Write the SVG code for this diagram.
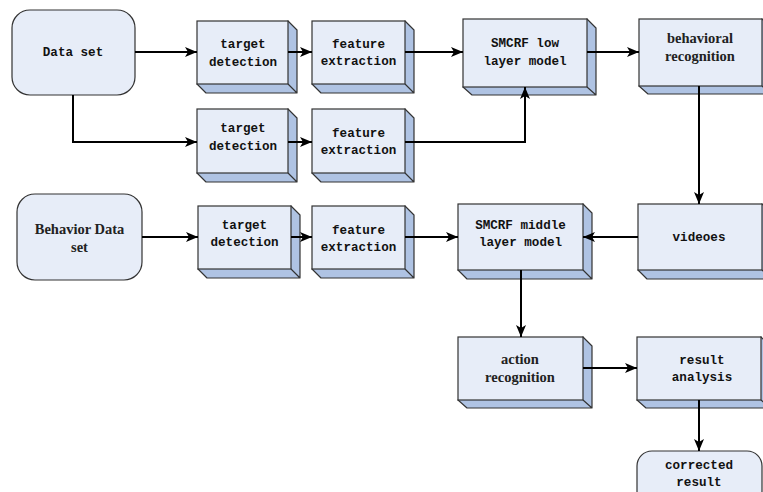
<svg xmlns="http://www.w3.org/2000/svg" width="763" height="492" viewBox="0 0 763 492">
<style>
.face{fill:#e7edf8;stroke:#333;stroke-width:1.2}
.side{fill:#afc3e3;stroke:#333;stroke-width:1.2;stroke-linejoin:round}
.round{fill:#e7edf8;stroke:#333;stroke-width:1.2}
.mono{font-family:"Liberation Mono","DejaVu Sans Mono",monospace;font-weight:bold;font-size:12.6px;fill:#111;text-anchor:middle}
.serif{font-family:"Liberation Serif","Times New Roman",serif;font-weight:bold;font-size:14.5px;fill:#222;text-anchor:middle}
.conn{fill:none;stroke:#000;stroke-width:2;marker-end:url(#ah)}
</style>
<defs>
<marker id="ah" markerUnits="userSpaceOnUse" markerWidth="12" markerHeight="10" viewBox="0 0 12 10" refX="12" refY="5" orient="auto">
<path d="M0,0 L12,5 L0,10 L3,5 Z" fill="#000"/>
</marker>
</defs>

<g id="data-set">
<rect class="round" x="12" y="10" width="123" height="85" rx="18"/>
<text class="mono" x="73" y="56">Data set</text>
</g>

<g id="target-detection-1">
<path class="side" d="M288,21 L297,30 L297,93 L206,93 L197,84 Z M288,84 L297,93"/>
<rect class="face" x="197" y="21" width="91" height="63"/>
<text class="mono" x="243" y="48">target</text>
<text class="mono" x="243" y="66">detection</text>
</g>

<g id="feature-extraction-1">
<path class="side" d="M405,21 L414,30 L414,93 L321,93 L312,84 Z M405,84 L414,93"/>
<rect class="face" x="312" y="21" width="93" height="63"/>
<text class="mono" x="358.5" y="48">feature</text>
<text class="mono" x="358.5" y="65">extraction</text>
</g>

<g id="smcrf-low">
<path class="side" d="M587,19 L596,28 L596,95 L472,95 L463,87 Z M587,87 L596,95"/>
<rect class="face" x="463" y="19" width="124" height="68"/>
<text class="mono" x="525" y="47">SMCRF low</text>
<text class="mono" x="525" y="65">layer model</text>
</g>

<g id="behavioral-recognition">
<path class="side" d="M762,19 L771,28 L771,94 L648,94 L639,86 Z M762,86 L771,94"/>
<rect class="face" x="639" y="19" width="123" height="67"/>
<text class="serif" x="700" y="43">behavioral</text>
<text class="serif" x="700" y="61">recognition</text>
</g>

<g id="target-detection-2">
<path class="side" d="M288,109 L297,118 L297,182 L206,182 L197,173 Z M288,173 L297,182"/>
<rect class="face" x="197" y="109" width="91" height="64"/>
<text class="mono" x="243" y="132">target</text>
<text class="mono" x="243" y="150">detection</text>
</g>

<g id="feature-extraction-2">
<path class="side" d="M405,109 L414,118 L414,182 L321,182 L312,173 Z M405,173 L414,182"/>
<rect class="face" x="312" y="109" width="93" height="64"/>
<text class="mono" x="358.5" y="137">feature</text>
<text class="mono" x="358.5" y="154">extraction</text>
</g>

<g id="behavior-data-set">
<rect class="round" x="17" y="194" width="125" height="86" rx="18"/>
<text class="serif" x="79.5" y="234">Behavior Data</text>
<text class="serif" x="79.5" y="252">set</text>
</g>

<g id="target-detection-3">
<path class="side" d="M291,206 L300,215 L300,278 L207,278 L198,269 Z M291,269 L300,278"/>
<rect class="face" x="198" y="206" width="93" height="63"/>
<text class="mono" x="244.5" y="229">target</text>
<text class="mono" x="244.5" y="246">detection</text>
</g>

<g id="feature-extraction-3">
<path class="side" d="M405,206 L414,215 L414,278 L321,278 L312,269 Z M405,269 L414,278"/>
<rect class="face" x="312" y="206" width="93" height="63"/>
<text class="mono" x="358.5" y="234">feature</text>
<text class="mono" x="358.5" y="251">extraction</text>
</g>

<g id="smcrf-middle">
<path class="side" d="M583,204 L592,213 L592,279 L467,279 L458,270 Z M583,270 L592,279"/>
<rect class="face" x="458" y="204" width="125" height="66"/>
<text class="mono" x="520.5" y="229">SMCRF middle</text>
<text class="mono" x="520.5" y="246">layer model</text>
</g>

<g id="videoes">
<path class="side" d="M762,204 L771,213 L771,279 L647,279 L638,270 Z M762,270 L771,279"/>
<rect class="face" x="638" y="204" width="124" height="66"/>
<text class="mono" x="699" y="241">videoes</text>
</g>

<g id="action-recognition">
<path class="side" d="M583,337 L592,346 L592,408 L467,408 L458,400 Z M583,400 L592,408"/>
<rect class="face" x="458" y="337" width="125" height="63"/>
<text class="serif" x="520" y="364">action</text>
<text class="serif" x="520" y="382">recognition</text>
</g>

<g id="result-analysis">
<path class="side" d="M761,337 L770,346 L770,408 L646,408 L637,400 Z M761,400 L770,408"/>
<rect class="face" x="637" y="337" width="124" height="63"/>
<text class="mono" x="702" y="364">result</text>
<text class="mono" x="702" y="381">analysis</text>
</g>

<g id="corrected-result">
<rect class="round" x="637" y="451" width="125" height="55" rx="15"/>
<text class="mono" x="699" y="469">corrected</text>
<text class="mono" x="699" y="486">result</text>
</g>

<g id="connectors">
<path class="conn" d="M135,52 H197"/>
<path class="conn" d="M288,52 H312"/>
<path class="conn" d="M405,52 H463"/>
<path class="conn" d="M587,52 H639"/>
<path class="conn" d="M73,95 V142 H197"/>
<path class="conn" d="M288,142 H312"/>
<path class="conn" d="M405,142 H525 V87"/>
<path class="conn" d="M699,86 V204"/>
<path class="conn" d="M142,237 H198"/>
<path class="conn" d="M291,237 H312"/>
<path class="conn" d="M405,237 H458"/>
<path class="conn" d="M638,237 H583"/>
<path class="conn" d="M521,270 V337"/>
<path class="conn" d="M583,368 H637"/>
<path class="conn" d="M699,400 V451"/>
</g>
</svg>
